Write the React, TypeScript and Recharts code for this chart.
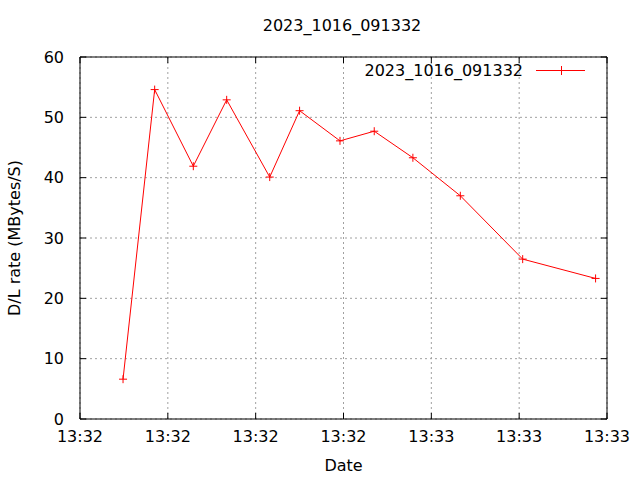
import { LineChart, Line, XAxis, YAxis, CartesianGrid } from "recharts";

// seconds after 13:32:00
const SECONDS = [24.9, 28.5, 32.9, 36.7, 41.6, 45.0, 49.6, 53.5, 57.9, 63.3, 70.4, 78.7];
const RATES = [6.6, 54.6, 41.9, 52.9, 40.1, 51.1, 46.1, 47.7, 43.3, 37.0, 26.5, 23.3];
const X_TICKS = [20, 30, 40, 50, 60, 70, 80];
const Y_TICKS = [0, 10, 20, 30, 40, 50, 60];
const SERIES = "2023_1016_091332";

const data = SECONDS.map((t, i) => ({ t, rate: RATES[i] }));
const FONT = "'DejaVu Sans', sans-serif";

const fmtTime = (s: number) => {
  const m = 32 + Math.floor(s / 60);
  return `13:${String(m).padStart(2, "0")}`;
};

const Plus = (props: any) => {
  const { cx, cy } = props;
  if (cx == null || cy == null) return null;
  return (
    <g stroke="#ff0000" strokeWidth={1}>
      <line x1={cx - 4} y1={cy} x2={cx + 4} y2={cy} />
      <line x1={cx} y1={cy - 4} x2={cx} y2={cy + 4} />
    </g>
  );
};

export default function App() {
  const tickStyle = { fontFamily: FONT, fontSize: 16, fill: "#000" };
  return (
    <div style={{ position: "absolute", left: 0, top: 0, width: 640, height: 480, background: "#fff" }}>
      <div style={{ position: "absolute", left: 0, width: 684, top: 16, textAlign: "center", fontFamily: FONT, fontSize: 16, lineHeight: "20px" }}>
        {SERIES}
      </div>
      {/* key box, top right inside the plot */}
      <svg width={260} height={24} style={{ position: "absolute", left: 340, top: 59, zIndex: 2 }}>
        <text x={183} y={17} textAnchor="end" fontFamily={FONT} fontSize={16} fill="#000">{SERIES}</text>
        <line x1={196} y1={11.5} x2={245} y2={11.5} stroke="#ff0000" />
        <line x1={221.5} y1={7} x2={221.5} y2={16} stroke="#ff0000" />
      </svg>
      <LineChart width={640} height={480} data={data} margin={{ top: 56, right: 32, left: 0, bottom: 0 }}>
        <CartesianGrid stroke="#a0a0a0" strokeDasharray="2 3" horizontalValues={Y_TICKS} verticalValues={X_TICKS} />
        <XAxis
          dataKey="t"
          type="number"
          domain={[20, 80]}
          ticks={X_TICKS}
          tickFormatter={fmtTime}
          height={61}
          stroke="#000"
          tickSize={-6}
          tickMargin={18}
          tick={tickStyle}
          label={{ value: "Date", position: "insideBottom", offset: 9, style: { fontFamily: FONT, fontSize: 16, fill: "#000" } }}
        />
        <XAxis xAxisId="top" orientation="top" dataKey="t" type="number" domain={[20, 80]} ticks={X_TICKS} tickFormatter={() => ""} height={1} stroke="#000" tickSize={-6} />
        <YAxis
          type="number"
          domain={[0, 60]}
          ticks={Y_TICKS}
          width={80}
          stroke="#000"
          tickSize={-6}
          tickMargin={22}
          tick={tickStyle}
          label={{
            content: () => (
              <text x={20} y={238} transform="rotate(-90 20 238)" textAnchor="middle" fontFamily={FONT} fontSize={16} fill="#000">
                D/L rate (MBytes/S)
              </text>
            ),
          }}
        />
        <YAxis yAxisId="right" orientation="right" type="number" domain={[0, 60]} ticks={Y_TICKS} tickFormatter={() => ""} width={1} stroke="#000" tickSize={-6} />
        {/* invisible copy so the mirrored border axes get drawn */}
        <Line xAxisId="top" yAxisId="right" dataKey="rate" stroke="none" dot={false} activeDot={false} legendType="none" isAnimationActive={false} />
        <Line
          name={SERIES}
          dataKey="rate"
          stroke="#ff0000"
          strokeWidth={1}
          dot={<Plus />}
          activeDot={false}
          isAnimationActive={false}
        />
      </LineChart>
    </div>
  );
}
